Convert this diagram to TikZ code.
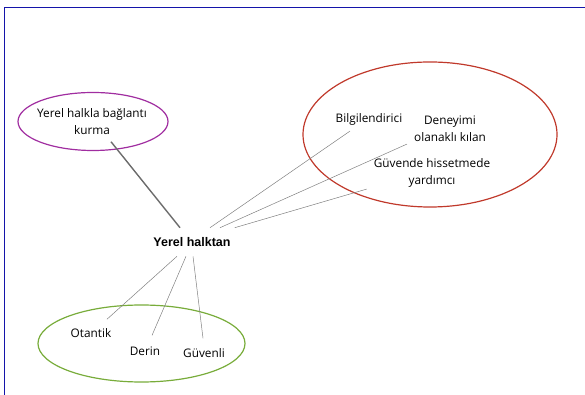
\documentclass[tikz,border=0pt]{standalone}
\usepackage{fontspec}
\setmainfont{Open Sans}
\newfontfamily\headfont{Liberation Sans}
\usetikzlibrary{shapes.geometric, positioning}

\definecolor{frameblue}{RGB}{20,20,170}
\definecolor{ringpurple}{RGB}{160,45,160}
\definecolor{ringred}{RGB}{192,57,43}
\definecolor{ringgreen}{RGB}{120,172,58}

\begin{document}
\begin{tikzpicture} [x=1pt, y=1pt, on grid,
    ring/.style = {ellipse, draw, line width=1.2pt, inner sep=0pt},
    item/.style = {font=\fontsize{11.8}{17}\selectfont, align=center, inner sep=2pt, text=black},
    spoke/.style = {draw=gray, line width=0.5pt},
    border line/.style = {draw=frameblue, line width=0.9pt}]
    \useasboundingbox (0,0) rectangle (585,395);
    \path [border line] (4.5,0) -- (4.5,388) -- (585,388);

    \node (halk) [font=\headfont\bfseries\fontsize{12.5}{14}\selectfont, inner xsep=4pt, inner ysep=9.5pt] at (192,153) {Yerel halktan};

    \node (baglring) [ring, draw=ringpurple, minimum width=150pt, minimum height=58pt, above left = 120.5pt and 99pt of halk] {};
    \node (baglanti) [item, left = 1pt of baglring] {Yerel halkla bağlantı\\kurma};

    \node (bilgiler) [ring, draw=ringred, minimum width=254pt, minimum height=145pt, above right = 107.5pt and 238pt of halk] {};
    \node (bilgi) [item, above left = 15.5pt and 61pt of bilgiler] {Bilgilendirici};
    \node (deneyim) [item, above right = 5.5pt and 20pt of bilgiler] {Deneyimi\\olanaklı kılan};
    \node (guvende) [item, below right = 38pt and 2pt of bilgiler] {Güvende hissetmede\\yardımcı};

    \node (nitelik) [ring, draw=ringgreen, minimum width=207pt, minimum height=77pt, below left = 101.5pt and 50.5pt of halk] {};
    \node (otantik) [item, above left = 10.5pt and 50.5pt of nitelik] {Otantik};
    \node (derin) [item, below right = 7.5pt and 3.5pt of nitelik] {Derin};
    \node (guvenli) [item, below right = 9.5pt and 62.5pt of nitelik] {Güvenli};

    \path [draw=gray!85!black, line width=1.4pt] ([xshift=-12pt]halk.north) edge ([shift={(19pt,-5pt)}]baglanti.south);

    \path [spoke] ([xshift=18pt]halk.north) edge ([shift={(-19pt,-4pt)}]bilgi.south);
    \path [spoke] ([xshift=28pt]halk.north) edge ([xshift=-5pt]deneyim.south west);
    \path [spoke] (halk.north east) edge ([xshift=-5pt]guvende.south west);

    \path [spoke] ([xshift=-15pt]halk.south) edge ([shift={(-6.5pt,7pt)}]otantik.north east);
    \path [spoke] ([xshift=-6pt]halk.south) edge ([shift={(7pt,9pt)}]derin.north);
    \path [spoke] ([xshift=1pt]halk.south) edge ([shift={(-1pt,8pt)}]guvenli.north);

\end{tikzpicture}
\end{document}
